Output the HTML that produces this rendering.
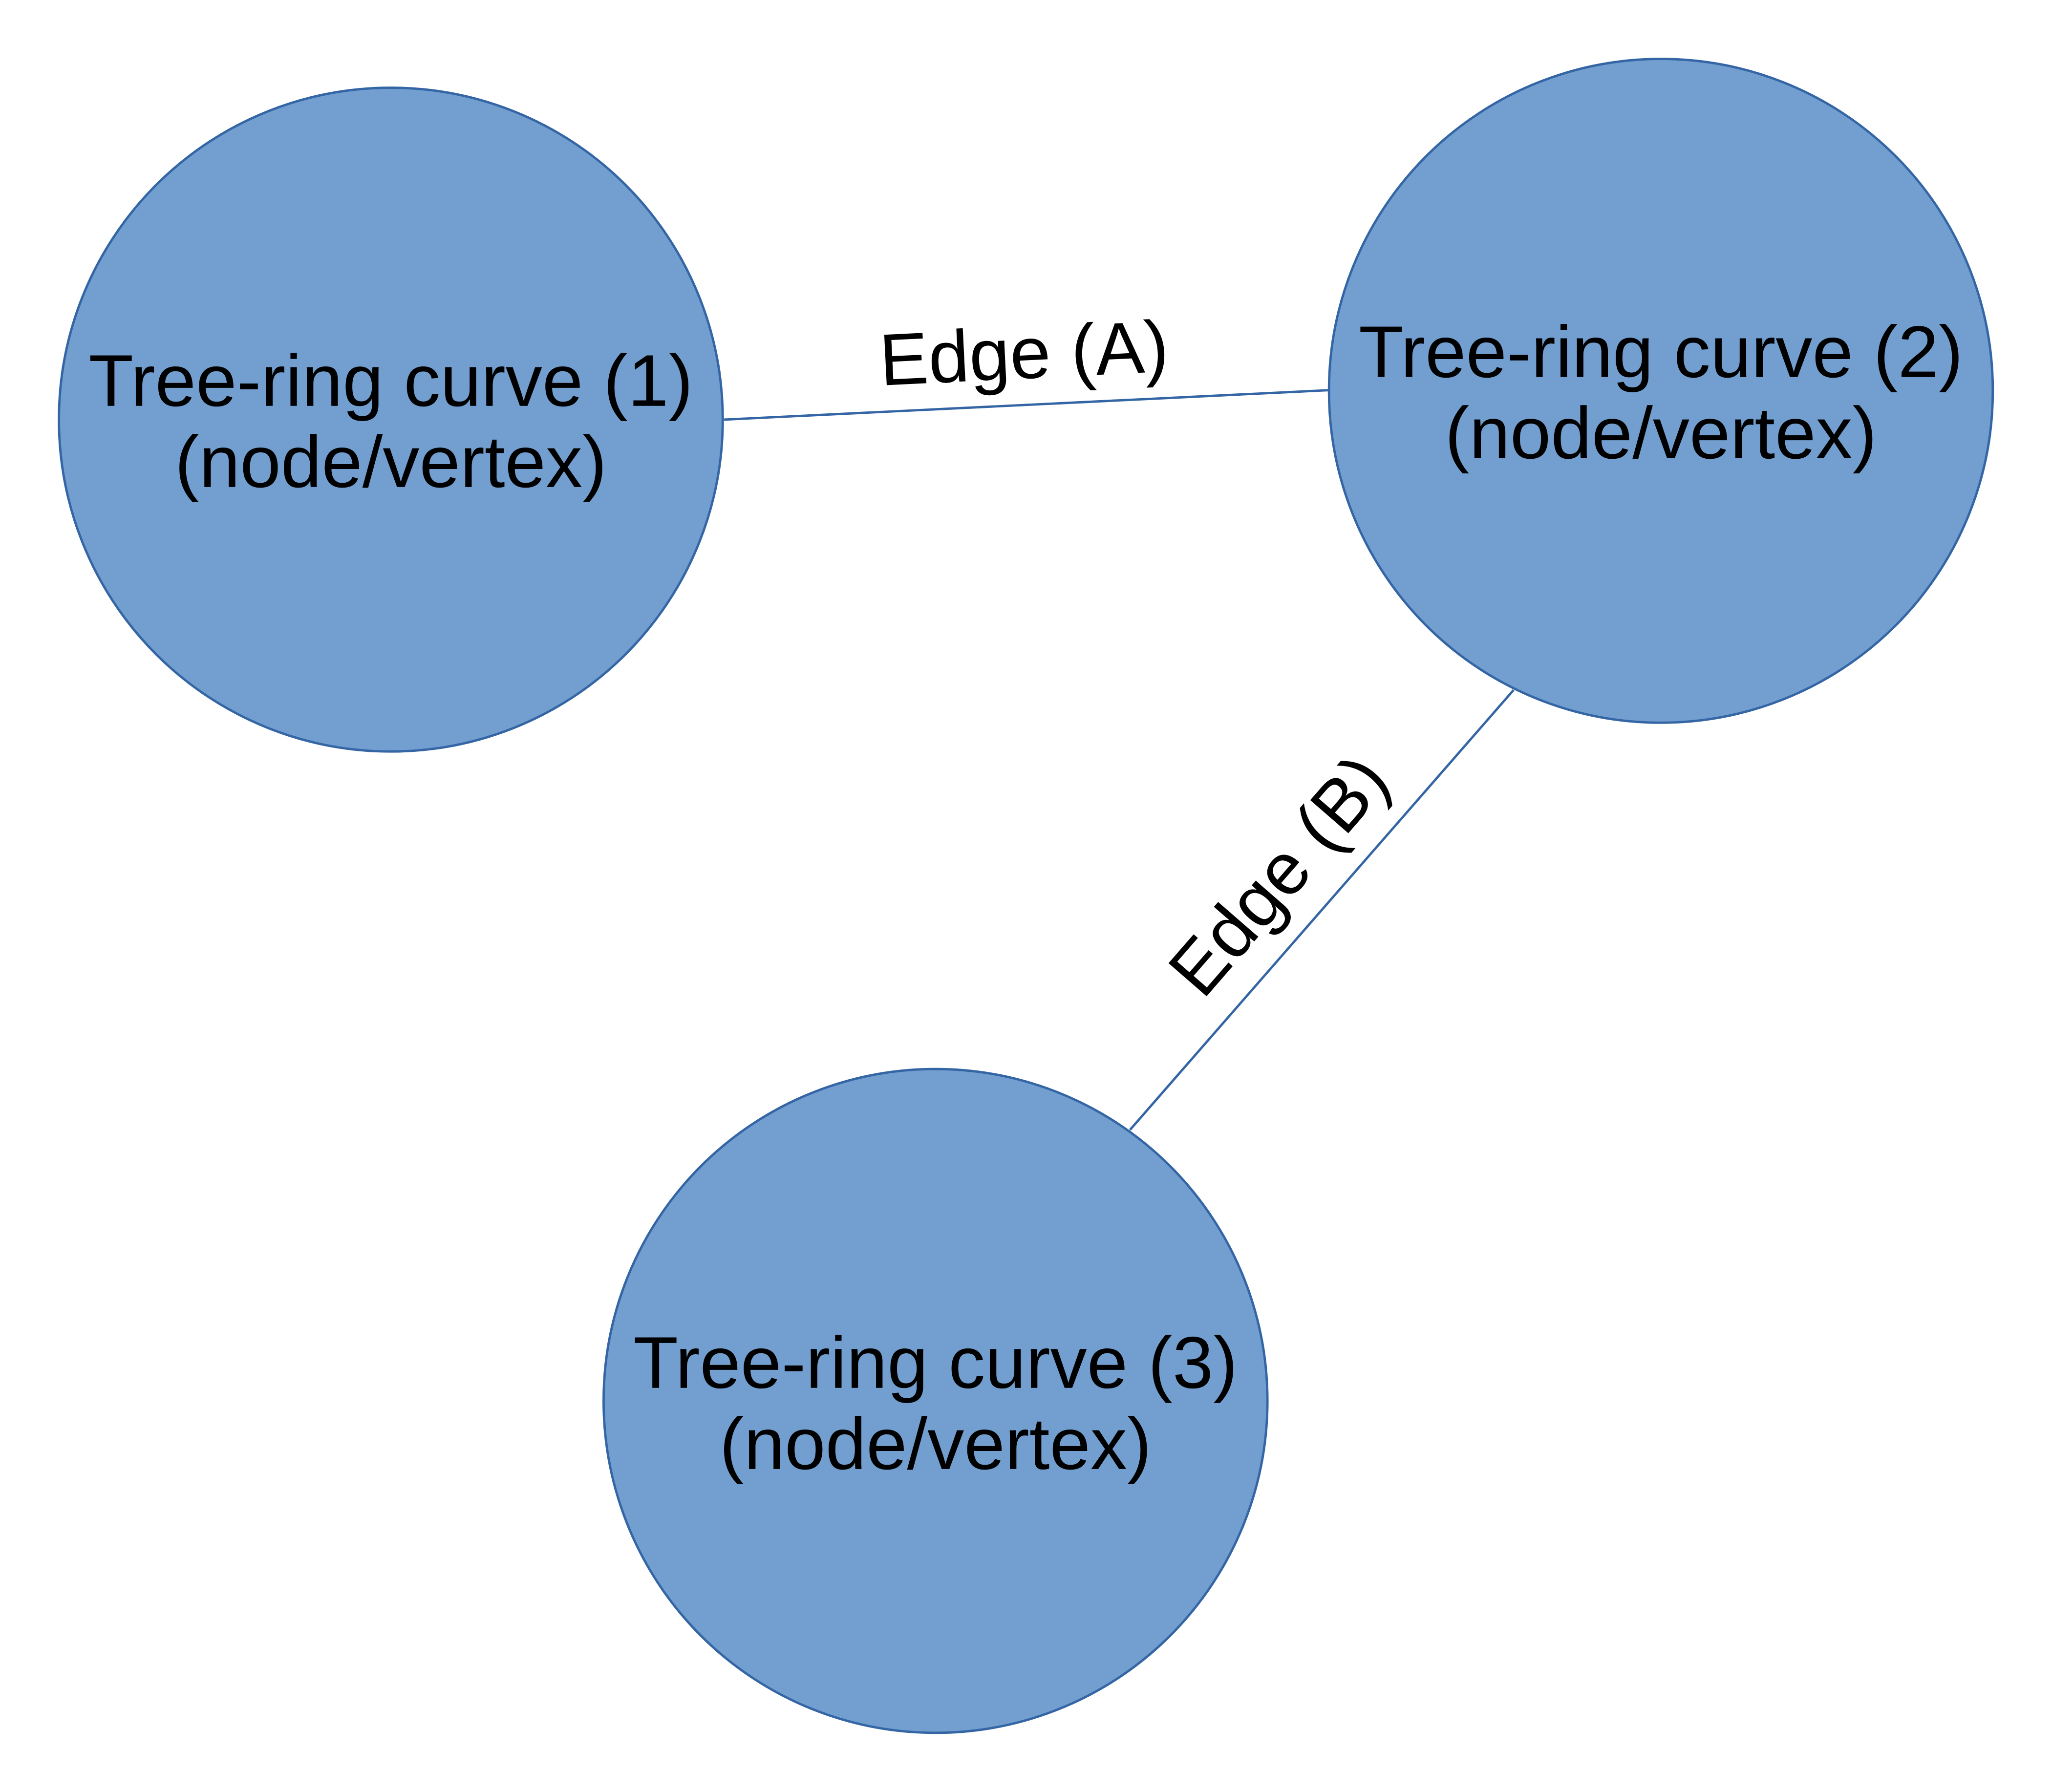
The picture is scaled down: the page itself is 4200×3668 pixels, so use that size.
<!DOCTYPE html>
<html><head><meta charset="utf-8"><style>html,body{margin:0;padding:0;background:#fff}svg{display:block}</style></head>
<body>
<svg width="4200" height="3668" viewBox="0 0 1567.2 1368.7" preserveAspectRatio="none" xmlns="http://www.w3.org/2000/svg" font-family="'Liberation Sans', sans-serif">
<g stroke="#3465a4" stroke-width="1.8">
<line x1="553" y1="320.5" x2="1015" y2="298"/>
<line x1="1156" y1="527" x2="863" y2="863"/>
</g>
<g fill="#729fcf" stroke="#3465a4" stroke-width="1.8">
<circle cx="298.5" cy="320.5" r="253.5"/>
<circle cx="1268.5" cy="298.5" r="253.5"/>
<circle cx="714.5" cy="1070" r="253.5"/>
</g>
<g font-size="56" text-anchor="middle" fill="#000">
<text x="298.5" y="310">Tree-ring curve (1)</text>
<text x="298.5" y="372">(node/vertex)</text>
<text x="1268.5" y="288">Tree-ring curve (2)</text>
<text x="1268.5" y="350">(node/vertex)</text>
<text x="714.5" y="1060">Tree-ring curve (3)</text>
<text x="714.5" y="1122">(node/vertex)</text>
<text transform="translate(783,289) rotate(-2.8)">Edge (A)</text>
<text transform="translate(991,681) rotate(-49)">Edge (B)</text>
</g>
</svg>
</body></html>
